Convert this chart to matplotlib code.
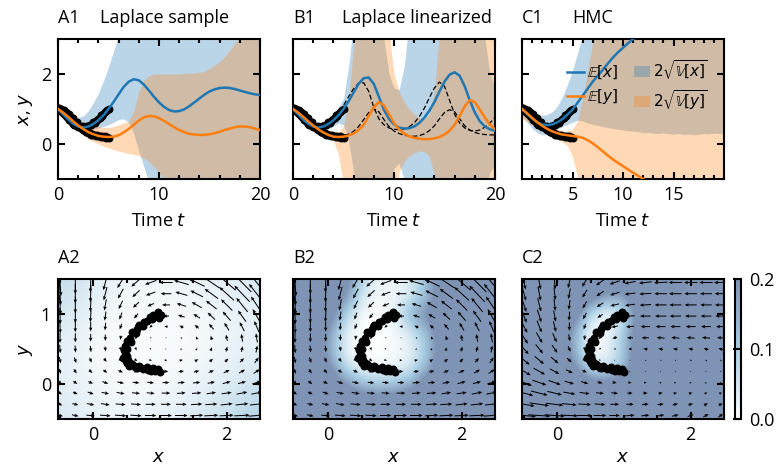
import numpy as np
import matplotlib
matplotlib.use("Agg")
import matplotlib.pyplot as plt
import matplotlib.ticker as mticker
from matplotlib.colors import LinearSegmentedColormap

plt.rcParams['font.family'] = ['Open Sans', 'DejaVu Sans']
plt.rcParams['font.size'] = 13
plt.rcParams['axes.linewidth'] = 1.5
plt.rcParams['mathtext.fontset'] = 'dejavusans'

BLUE = '#1f77b4'
ORANGE = '#ff7f0e'

# ---------------- observations (t, x, y) ----------------
T_OBS = [0, 0.125, 0.25, 0.375, 0.5, 0.625, 0.75, 0.875, 1, 1.125, 1.25, 1.375, 1.5, 1.625,
         1.75, 1.875, 2, 2.125, 2.25, 2.375, 2.5, 2.625, 2.75, 2.875, 3, 3.125, 3.25, 3.375,
         3.5, 3.625, 3.75, 3.875, 4, 4.125, 4.25, 4.375, 4.5, 4.625, 4.75, 4.875, 5]
X_OBS = [1.02, 0.97, 0.99, 0.9, 0.88, 0.85, 0.8, 0.76, 0.74, 0.69, 0.65, 0.64, 0.58, 0.55,
         0.56, 0.5, 0.48, 0.51, 0.46, 0.47, 0.5, 0.45, 0.49, 0.52, 0.5, 0.55, 0.53, 0.58,
         0.62, 0.6, 0.65, 0.68, 0.7, 0.75, 0.82, 0.8, 0.86, 0.9, 0.93, 0.97, 1.0]
Y_OBS = [0.99, 1.03, 0.95, 0.98, 0.93, 0.96, 0.9, 0.89, 0.83, 0.85, 0.78, 0.73, 0.74, 0.66,
         0.6, 0.62, 0.55, 0.5, 0.49, 0.42, 0.4, 0.37, 0.33, 0.35, 0.3, 0.3, 0.26, 0.28,
         0.25, 0.27, 0.23, 0.26, 0.24, 0.22, 0.2, 0.24, 0.19, 0.23, 0.18, 0.21, 0.17]

# ---------------- time grid for predictions ----------------
T = [0, 0.5, 1, 1.5, 2, 2.5, 3, 3.5, 4, 4.5, 5, 5.5, 6, 6.5, 7, 7.5, 8, 8.5, 9, 9.5, 10,
     10.5, 11, 11.5, 12, 12.5, 13, 13.5, 14, 14.5, 15, 15.5, 16, 16.5, 17, 17.5, 18, 18.5,
     19, 19.5, 20]

# A1 Laplace sample
A_XM = [1.0, 0.85, 0.7, 0.58, 0.5, 0.47, 0.5, 0.57, 0.68, 0.82, 1.0, 1.2, 1.42, 1.63, 1.78,
        1.85, 1.82, 1.7, 1.53, 1.35, 1.19, 1.06, 0.97, 0.93, 0.94, 0.99, 1.08, 1.19, 1.3,
        1.41, 1.5, 1.56, 1.6, 1.61, 1.6, 1.57, 1.53, 1.49, 1.45, 1.42, 1.4]
A_YM = [1.0, 0.9, 0.78, 0.65, 0.53, 0.43, 0.34, 0.28, 0.23, 0.21, 0.2, 0.21, 0.25, 0.33, 0.43,
        0.55, 0.67, 0.76, 0.8, 0.79, 0.74, 0.66, 0.57, 0.48, 0.4, 0.34, 0.29, 0.27, 0.26,
        0.26, 0.28, 0.31, 0.35, 0.4, 0.44, 0.48, 0.5, 0.5, 0.48, 0.44, 0.4]
A_XLO = [0.88, 0.72, 0.56, 0.44, 0.38, 0.36, 0.38, 0.42, 0.46, 0.5, 0.55, 0.62, 0.7, 0.72,
         0.62, 0.3, -0.2, -0.65, -1.1] + [-1.5] * 22
A_XHI = [1.1, 0.98, 0.85, 0.78, 0.76, 0.8, 0.95, 1.18, 1.45, 1.8, 2.2, 2.65, 3.1] + [3.5] * 28
A_YLO = [0.88, 0.76, 0.62, 0.48, 0.36, 0.25, 0.15, 0.07, 0.0, -0.06, -0.11, -0.16, -0.2,
         -0.24, -0.27, -0.3, -0.33, -0.4, -0.5, -0.65, -0.82, -1.0, -1.2] + [-1.5] * 18
A_YHI = [1.12, 1.02, 0.9, 0.78, 0.68, 0.6, 0.55, 0.52, 0.5, 0.47, 0.47, 0.5, 0.55, 0.6, 0.65,
         0.95, 1.5, 1.82, 1.95, 2.0, 2.0, 2.0, 2.0, 2.0, 2.0, 2.02, 2.02, 2.03, 2.05, 2.08,
         2.15, 2.25, 2.35, 2.5, 2.68, 2.88, 3.1, 3.3, 3.5, 3.6, 3.7]

# B1 Laplace linearized
B_XM = [1.0, 0.85, 0.7, 0.58, 0.5, 0.47, 0.5, 0.57, 0.68, 0.82, 1.0, 1.22, 1.47, 1.72, 1.88,
        1.9, 1.72, 1.35, 0.98, 0.72, 0.56, 0.47, 0.44, 0.45, 0.5, 0.6, 0.75, 0.95, 1.2, 1.5,
        1.78, 1.98, 2.05, 1.95, 1.65, 1.25, 0.9, 0.65, 0.5, 0.42, 0.38]
B_YM = [1.0, 0.9, 0.78, 0.65, 0.53, 0.42, 0.33, 0.26, 0.21, 0.2, 0.21, 0.24, 0.3, 0.4, 0.55,
        0.8, 1.05, 1.2, 1.1, 0.85, 0.6, 0.42, 0.3, 0.22, 0.18, 0.15, 0.14, 0.14, 0.16, 0.2,
        0.27, 0.38, 0.55, 0.8, 1.08, 1.25, 1.2, 0.98, 0.75, 0.55, 0.42]
B_XLO = [0.92, 0.77, 0.62, 0.5, 0.41, 0.37, 0.38, 0.43, 0.5, 0.6, 0.55, 0.1, -0.8] + \
        [-1.5] * 7 + [-0.7, -0.55, -1.0] + [-1.5] * 16 + [-0.8, -0.6]
B_XHI = [1.08, 0.93, 0.78, 0.67, 0.6, 0.58, 0.63, 0.72, 0.86, 1.05, 1.3, 2.2, 3.5] + \
        [4.0] * 5 + [3.0, 2.0, 1.6, 1.55, 2.2, 3.5] + [4.0] * 14 + [3.0, 2.0, 1.6]
B_YLO = [0.92, 0.82, 0.7, 0.57, 0.45, 0.34, 0.25, 0.17, 0.1, -0.3, -1.2] + [-2.0] * 10 + \
        [-0.8, -0.5, -0.35, -0.25, -0.2, -0.22, -0.35, -0.9] + [-2.0] * 12
B_YHI = [1.08, 0.98, 0.86, 0.73, 0.61, 0.5, 0.41, 0.35, 0.31, 0.33, 0.5, 1.2, 2.8] + \
        [4.0] * 6 + [3.2, 2.0, 1.5, 1.2, 1.0, 0.85, 0.75, 0.72, 0.85, 1.5, 3.2] + [4.0] * 11
B_DX = [1.0, 0.85, 0.7, 0.58, 0.5, 0.47, 0.5, 0.58, 0.7, 0.88, 1.1, 1.35, 1.58, 1.74, 1.75,
        1.5, 1.05, 0.72, 0.55, 0.46, 0.42, 0.41, 0.43, 0.49, 0.6, 0.78, 1.02, 1.32, 1.6,
        1.77, 1.65, 1.25, 0.85, 0.6, 0.46, 0.39, 0.37, 0.4, 0.48, 0.6, 0.76]
B_DY = [1.0, 0.9, 0.78, 0.65, 0.53, 0.43, 0.35, 0.29, 0.25, 0.23, 0.24, 0.28, 0.36, 0.5, 0.7,
        0.9, 1.0, 0.92, 0.7, 0.5, 0.37, 0.3, 0.25, 0.23, 0.22, 0.24, 0.29, 0.38, 0.52, 0.72,
        0.9, 0.98, 0.92, 0.72, 0.52, 0.4, 0.33, 0.29, 0.27, 0.26, 0.26]

# C1 HMC
C_XM = [1.0, 0.86, 0.73, 0.63, 0.56, 0.54, 0.56, 0.62, 0.71, 0.84, 0.98, 1.18, 1.38, 1.58,
        1.78, 1.95, 2.12, 2.3, 2.47, 2.62, 2.75, 2.88, 3.0, 3.12, 3.25, 3.37, 3.5, 3.62, 3.74,
        3.86, 3.98, 4.1, 4.22, 4.34, 4.46, 4.58, 4.7, 4.82, 4.94, 5.06, 5.18]
C_YM = [1.0, 0.88, 0.75, 0.62, 0.52, 0.43, 0.36, 0.31, 0.27, 0.25, 0.23, 0.21, 0.18, 0.11,
        0.02, -0.09, -0.21, -0.33, -0.44, -0.54, -0.63, -0.73, -0.82, -0.91, -1.0, -1.1,
        -1.2, -1.3, -1.4, -1.5, -1.6, -1.7, -1.8, -1.9, -2.0, -2.1, -2.2, -2.3, -2.4, -2.5, -2.6]
C_XLO = [0.8, 0.62, 0.45, 0.32, 0.26, 0.27, 0.33, 0.42, 0.5, 0.56, 0.62, 0.68, 0.66, 0.6,
         0.56, 0.53, 0.5, 0.47, 0.45, 0.42, 0.4, 0.38, 0.37, 0.35, 0.32, 0.33, 0.31, 0.3,
         0.32, 0.3, 0.28, 0.3, 0.27, 0.29, 0.26, 0.28, 0.3, 0.29, 0.31, 0.3, 0.31]
C_XHI = [1.12, 1.0, 0.9, 0.84, 0.82, 0.84, 0.92, 1.08, 1.35, 1.7, 2.1, 2.6, 3.1] + [6.0] * 28
C_YLO = [0.72, 0.65, 0.55, 0.45, 0.36, 0.28, 0.2, 0.13, 0.06, -0.05, -0.35, -0.95, -1.6] + [-3.0] * 28
C_YHI = [1.2, 1.07, 0.92, 0.78, 0.66, 0.56, 0.48, 0.42, 0.38, 0.37, 0.42, 0.65, 1.3, 2.1,
         2.9, 3.5] + [4.0] * 25

# ---------------- phase plane vector fields ----------------
QX = [-0.5, -0.27, -0.04, 0.18, 0.41, 0.64, 0.86, 1.09, 1.32, 1.55, 1.77, 2.0, 2.23, 2.45]
QY = [-0.45, -0.29, -0.13, 0.02, 0.18, 0.34, 0.5, 0.66, 0.82, 0.97, 1.13, 1.29, 1.45]

# rows go from bottom (y=-0.45) to top (y=1.45)
U_LAP = [
    [0.09, 0.1, 0.13, 0.16, 0.17, 0.17, 0.17, 0.18, 0.19, 0.2, 0.21, 0.21, 0.23, 0.24],
    [0.07, 0.09, 0.11, 0.13, 0.15, 0.15, 0.15, 0.15, 0.16, 0.17, 0.18, 0.18, 0.19, 0.2],
    [0.06, 0.07, 0.09, 0.11, 0.12, 0.12, 0.12, 0.13, 0.13, 0.14, 0.14, 0.15, 0.16, 0.16],
    [0.05, 0.06, 0.07, 0.09, 0.1, 0.1, 0.1, 0.1, 0.11, 0.11, 0.11, 0.12, 0.12, 0.13],
    [0.03, 0.04, 0.05, 0.06, 0.07, 0.07, 0.07, 0.07, 0.08, 0.08, 0.08, 0.09, 0.09, 0.09],
    [0.02, 0.03, 0.03, 0.04, 0.04, 0.04, 0.04, 0.04, 0.05, 0.05, 0.05, 0.05, 0.06, 0.06],
    [0.01, 0.01, 0.01, 0.01, 0.02, 0.02, 0.02, 0.02, 0.02, 0.02, 0.02, 0.02, 0.02, 0.02],
    [0.0, 0.0, 0.0, 0.0, -0.01, -0.01, -0.01, -0.01, -0.02, -0.02, -0.02, -0.02, -0.02, -0.02],
    [0.01, 0.0, 0.0, -0.01, -0.03, -0.04, -0.04, -0.05, -0.06, -0.06, -0.07, -0.07, -0.07, -0.07],
    [0.01, 0.0, -0.01, -0.02, -0.04, -0.06, -0.07, -0.09, -0.1, -0.1, -0.11, -0.12, -0.12, -0.12],
    [0.02, 0.0, -0.01, -0.03, -0.06, -0.09, -0.1, -0.12, -0.14, -0.15, -0.16, -0.17, -0.17, -0.17],
    [0.02, 0.0, -0.01, -0.05, -0.08, -0.11, -0.14, -0.16, -0.18, -0.19, -0.2, -0.22, -0.23, -0.23],
    [0.03, 0.0, -0.01, -0.06, -0.1, -0.14, -0.17, -0.2, -0.22, -0.24, -0.25, -0.27, -0.28, -0.28],
]
V_LAP = [
    [-0.02, -0.02, -0.01, -0.01, -0.01, -0.01, 0, 0, 0, 0.01, 0.01, 0.01, 0.01, 0.02],
    [-0.03, -0.02, -0.02, -0.02, -0.01, -0.01, 0, 0, 0, 0.01, 0.01, 0.02, 0.02, 0.02],
    [-0.04, -0.03, -0.03, -0.02, -0.02, -0.01, -0.01, 0, 0.01, 0.01, 0.02, 0.02, 0.03, 0.03],
    [-0.05, -0.04, -0.03, -0.03, -0.02, -0.01, -0.01, 0, 0.01, 0.01, 0.02, 0.03, 0.03, 0.04],
    [-0.07, -0.06, -0.05, -0.04, -0.03, -0.02, -0.01, 0, 0.01, 0.02, 0.03, 0.04, 0.05, 0.06],
    [-0.09, -0.08, -0.07, -0.05, -0.04, -0.03, -0.01, 0, 0.01, 0.03, 0.04, 0.05, 0.06, 0.08],
    [-0.12, -0.1, -0.09, -0.07, -0.05, -0.04, -0.02, 0, 0.02, 0.03, 0.05, 0.07, 0.08, 0.1],
    [-0.15, -0.13, -0.11, -0.09, -0.06, -0.05, -0.02, 0, 0.02, 0.04, 0.06, 0.09, 0.11, 0.13],
    [-0.19, -0.16, -0.14, -0.11, -0.08, -0.06, -0.03, 0, 0.03, 0.05, 0.08, 0.11, 0.13, 0.16],
    [-0.23, -0.2, -0.17, -0.13, -0.1, -0.07, -0.03, 0, 0.03, 0.06, 0.1, 0.13, 0.16, 0.2],
    [-0.28, -0.24, -0.2, -0.16, -0.12, -0.08, -0.04, 0, 0.04, 0.08, 0.12, 0.16, 0.2, 0.24],
    [-0.33, -0.28, -0.24, -0.19, -0.14, -0.1, -0.05, 0, 0.05, 0.09, 0.14, 0.19, 0.23, 0.28],
    [-0.39, -0.33, -0.28, -0.22, -0.16, -0.12, -0.06, 0, 0.06, 0.11, 0.16, 0.22, 0.27, 0.33],
]
U_HMC = [
    [0.36, 0.33, 0.3, 0.26, 0.22, 0.19, 0.16, 0.14, 0.12, 0.11, 0.1, 0.09, 0.08, 0.07],
    [0.32, 0.29, 0.26, 0.22, 0.19, 0.16, 0.13, 0.11, 0.1, 0.09, 0.08, 0.07, 0.06, 0.06],
    [0.28, 0.25, 0.22, 0.18, 0.15, 0.12, 0.1, 0.08, 0.07, 0.06, 0.05, 0.05, 0.04, 0.04],
    [0.24, 0.21, 0.18, 0.14, 0.11, 0.08, 0.06, 0.05, 0.04, 0.03, 0.03, 0.03, 0.02, 0.02],
    [0.2, 0.17, 0.14, 0.1, 0.07, 0.05, 0.03, 0.02, 0.01, 0.01, 0.01, 0.01, 0.0, 0.0],
    [0.17, 0.14, 0.11, 0.07, 0.04, 0.02, 0.0, -0.01, -0.02, -0.02, -0.02, -0.02, -0.02, -0.02],
    [0.14, 0.11, 0.08, 0.04, 0.01, -0.01, -0.03, -0.05, -0.06, -0.07, -0.07, -0.07, -0.07, -0.07],
    [0.12, 0.09, 0.06, 0.02, -0.01, -0.04, -0.07, -0.09, -0.11, -0.12, -0.12, -0.12, -0.12, -0.11],
    [0.1, 0.07, 0.04, 0.0, -0.03, -0.06, -0.1, -0.12, -0.14, -0.15, -0.15, -0.15, -0.15, -0.14],
    [0.08, 0.06, 0.03, -0.01, -0.05, -0.08, -0.12, -0.14, -0.16, -0.17, -0.17, -0.17, -0.16, -0.16],
    [0.07, 0.05, 0.02, -0.02, -0.06, -0.1, -0.13, -0.15, -0.17, -0.18, -0.18, -0.18, -0.17, -0.17],
    [0.06, 0.04, 0.02, -0.03, -0.07, -0.11, -0.14, -0.16, -0.18, -0.19, -0.19, -0.19, -0.18, -0.18],
    [0.05, 0.04, 0.02, -0.04, -0.08, -0.12, -0.15, -0.17, -0.19, -0.2, -0.2, -0.2, -0.2, -0.2],
]
V_HMC = [
    [-0.03, -0.02, -0.02, -0.01, 0, 0, 0, 0.01, 0.01, 0.02, 0.02, 0.03, 0.04, 0.05],
    [-0.05, -0.04, -0.03, -0.02, -0.01, -0.01, 0, 0, 0.01, 0.01, 0.02, 0.02, 0.03, 0.03],
    [-0.07, -0.06, -0.05, -0.03, -0.02, -0.01, -0.01, 0, 0, 0.01, 0.01, 0.02, 0.02, 0.02],
    [-0.09, -0.07, -0.06, -0.04, -0.03, -0.02, -0.01, 0, 0, 0.01, 0.01, 0.01, 0.02, 0.02],
    [-0.11, -0.09, -0.07, -0.05, -0.03, -0.02, -0.01, 0, 0, 0.01, 0.01, 0.01, 0.02, 0.02],
    [-0.13, -0.11, -0.09, -0.06, -0.04, -0.02, -0.01, 0, 0.01, 0.01, 0.01, 0.02, 0.02, 0.02],
    [-0.15, -0.13, -0.11, -0.08, -0.05, -0.03, -0.01, 0, 0.01, 0.01, 0.01, 0.01, 0.02, 0.02],
    [-0.17, -0.15, -0.13, -0.1, -0.07, -0.04, -0.02, 0, 0, 0.01, 0.01, 0.01, 0.01, 0.01],
    [-0.18, -0.17, -0.15, -0.12, -0.08, -0.04, -0.02, -0.01, 0, 0, 0, 0, 0, 0],
    [-0.19, -0.18, -0.16, -0.13, -0.09, -0.05, -0.03, -0.01, 0, 0, 0, 0, 0, 0],
    [-0.2, -0.19, -0.17, -0.14, -0.1, -0.06, -0.03, -0.02, -0.01, 0, 0, 0, 0, 0],
    [-0.2, -0.2, -0.18, -0.15, -0.11, -0.07, -0.04, -0.02, -0.01, 0, 0, 0, 0, 0],
    [-0.2, -0.2, -0.19, -0.16, -0.12, -0.08, -0.05, -0.03, -0.02, -0.01, 0, 0, 0, 0],
]

# ---------------- predictive variance maps ----------------
# A2: coarse grid x = -0.5..2.5 step 0.5, y = -0.5..1.5 step 0.5 (bottom row first)
VAR_A = [
    [0.05, 0.03, 0.025, 0.03, 0.045, 0.07, 0.1],
    [0.035, 0.015, 0.01, 0.012, 0.02, 0.035, 0.06],
    [0.035, 0.01, 0.005, 0.005, 0.01, 0.02, 0.035],
    [0.05, 0.02, 0.008, 0.008, 0.012, 0.02, 0.03],
    [0.08, 0.04, 0.02, 0.02, 0.025, 0.035, 0.05],
]
# B2, C2: grid x = -0.5..2.5 step 0.25, y = -0.5..1.5 step 0.25 (bottom row first)
VAR_B = [
    [0.3, 0.3, 0.3, 0.3, 0.3, 0.3, 0.3, 0.3, 0.3, 0.3, 0.3, 0.3, 0.3],
    [0.3, 0.3, 0.3, 0.3, 0.28, 0.26, 0.27, 0.3, 0.3, 0.3, 0.3, 0.3, 0.3],
    [0.3, 0.3, 0.3, 0.2, 0.12, 0.1, 0.11, 0.14, 0.3, 0.3, 0.3, 0.3, 0.3],
    [0.3, 0.3, 0.22, 0.06, 0.02, 0.01, 0.02, 0.05, 0.14, 0.3, 0.3, 0.3, 0.3],
    [0.3, 0.3, 0.17, 0.02, 0.0, 0.0, 0.01, 0.03, 0.12, 0.3, 0.3, 0.3, 0.3],
    [0.3, 0.3, 0.19, 0.03, 0.0, 0.0, 0.01, 0.05, 0.14, 0.3, 0.3, 0.3, 0.3],
    [0.3, 0.3, 0.28, 0.08, 0.01, 0.0, 0.03, 0.16, 0.24, 0.3, 0.3, 0.3, 0.3],
    [0.3, 0.3, 0.3, 0.2, 0.04, 0.01, 0.02, 0.05, 0.13, 0.3, 0.3, 0.3, 0.3],
    [0.3, 0.3, 0.3, 0.25, 0.08, 0.02, 0.02, 0.04, 0.15, 0.3, 0.3, 0.3, 0.3],
]
VAR_C = [
    [0.3, 0.3, 0.3, 0.3, 0.3, 0.3, 0.3, 0.3, 0.3, 0.3, 0.3, 0.3, 0.3],
    [0.3, 0.3, 0.3, 0.3, 0.3, 0.3, 0.3, 0.3, 0.3, 0.3, 0.3, 0.3, 0.3],
    [0.3, 0.3, 0.3, 0.3, 0.25, 0.24, 0.3, 0.3, 0.3, 0.3, 0.3, 0.3, 0.3],
    [0.3, 0.3, 0.3, 0.22, 0.05, 0.04, 0.11, 0.3, 0.3, 0.3, 0.3, 0.3, 0.3],
    [0.3, 0.3, 0.3, 0.15, 0.0, 0.02, 0.11, 0.3, 0.3, 0.3, 0.3, 0.3, 0.3],
    [0.3, 0.3, 0.3, 0.16, 0.0, 0.02, 0.09, 0.3, 0.3, 0.3, 0.3, 0.3, 0.3],
    [0.3, 0.3, 0.3, 0.28, 0.05, 0.01, 0.05, 0.27, 0.3, 0.3, 0.3, 0.3, 0.3],
    [0.3, 0.3, 0.3, 0.3, 0.26, 0.15, 0.17, 0.3, 0.3, 0.3, 0.3, 0.3, 0.3],
    [0.3, 0.3, 0.3, 0.3, 0.3, 0.3, 0.3, 0.3, 0.3, 0.3, 0.3, 0.3, 0.3],
]

var_cmap = LinearSegmentedColormap.from_list('var', ['#ffffff', '#aacfe4', '#7f94b5'])


def style_ax(ax):
    ax.tick_params(which='both', direction='in', top=True, right=True, width=1.5, pad=5)
    ax.tick_params(which='major', length=5)
    ax.tick_params(which='minor', length=3)


def time_panel(ax, xm, ym, xlo, xhi, ylo, yhi):
    fx = ax.fill_between(T, xlo, xhi, color=BLUE, alpha=0.3, lw=0)
    fy = ax.fill_between(T, ylo, yhi, color=ORANGE, alpha=0.3, lw=0)
    ax.scatter(T_OBS, X_OBS, s=22, c='k', zorder=3)
    ax.scatter(T_OBS, Y_OBS, s=22, c='k', zorder=3)
    lx, = ax.plot(T, xm, color=BLUE, lw=1.8, zorder=4)
    ly, = ax.plot(T, ym, color=ORANGE, lw=1.8, zorder=4)
    ax.set_xlim(0, 20)
    ax.set_ylim(-1, 3)
    ax.yaxis.set_major_locator(mticker.FixedLocator([0, 2]))
    ax.set_xlabel('Time $t$', labelpad=6)
    style_ax(ax)
    return lx, ly, fx, fy


def phase_panel(ax, var, ext, u, v):
    im = ax.imshow(var, origin='lower', extent=ext, cmap=var_cmap, vmin=0, vmax=0.2,
                   interpolation='bicubic', aspect='auto')
    ax.quiver(QX, QY, u, v, angles='xy', scale_units='xy', scale=1, pivot='mid',
              width=0.005, headwidth=3.5, headlength=4, headaxislength=3.5, color='k')
    ax.scatter(X_OBS, Y_OBS, s=22, c='k', zorder=3)
    ax.set_xlim(-0.53, 2.5)
    ax.set_ylim(-0.5, 1.5)
    ax.xaxis.set_major_locator(mticker.FixedLocator([0, 2]))
    ax.xaxis.set_minor_locator(mticker.MultipleLocator(0.5))
    ax.yaxis.set_major_locator(mticker.FixedLocator([0, 1]))
    ax.set_xlabel('$x$', labelpad=3)
    style_ax(ax)
    return im


fig = plt.figure(figsize=(7.82, 4.69), dpi=100)
W = 202 / 782
H = 140 / 469
lefts = [58 / 782, 293 / 782, 522 / 782]
top_b = 1 - 179 / 469
bot_b = 1 - 419 / 469

axA1 = fig.add_axes([lefts[0], top_b, W, H])
axB1 = fig.add_axes([lefts[1], top_b, W, H])
axC1 = fig.add_axes([lefts[2], top_b, W, H])
axA2 = fig.add_axes([lefts[0], bot_b, W, H])
axB2 = fig.add_axes([lefts[1], bot_b, W, H])
axC2 = fig.add_axes([lefts[2], bot_b, W, H])
cax = fig.add_axes([735 / 782, bot_b, 6 / 782, H])

time_panel(axA1, A_XM, A_YM, A_XLO, A_XHI, A_YLO, A_YHI)
axA1.set_ylabel('$x$, $y$', labelpad=4)
axA1.xaxis.set_major_locator(mticker.FixedLocator([0, 10, 20]))
axA1.xaxis.set_minor_locator(mticker.MultipleLocator(2))

axB1.plot(T, B_DX, color='k', ls='--', lw=0.9, dashes=(4, 2), zorder=3.5)
axB1.plot(T, B_DY, color='k', ls='--', lw=0.9, dashes=(4, 2), zorder=3.5)
time_panel(axB1, B_XM, B_YM, B_XLO, B_XHI, B_YLO, B_YHI)
axB1.xaxis.set_major_locator(mticker.FixedLocator([0, 10, 20]))
axB1.xaxis.set_minor_locator(mticker.MultipleLocator(2))
axB1.set_yticklabels([])

lx, ly, fx, fy = time_panel(axC1, C_XM, C_YM, C_XLO, C_XHI, C_YLO, C_YHI)
axC1.xaxis.set_major_locator(mticker.FixedLocator([5, 10, 15]))
axC1.xaxis.set_minor_locator(mticker.MultipleLocator(1))
axC1.set_yticklabels([])
axC1.legend([lx, ly, fx, fy],
            [r'$\mathbb{E}[x]$', r'$\mathbb{E}[y]$',
             r'$2\sqrt{\mathbb{V}[x]}$', r'$2\sqrt{\mathbb{V}[y]}$'],
            ncol=2, frameon=False, loc='upper left', bbox_to_anchor=(0.17, 0.94),
            fontsize=11, handlelength=1.1, handletextpad=0.2, columnspacing=1.0,
            labelspacing=0.4, borderpad=0.2)

phase_panel(axA2, VAR_A, [-0.75, 2.75, -0.75, 1.75], U_LAP, V_LAP)
axA2.set_ylabel('$y$', labelpad=4)
phase_panel(axB2, VAR_B, [-0.625, 2.625, -0.625, 1.625], U_LAP, V_LAP)
axB2.set_yticklabels([])
im = phase_panel(axC2, VAR_C, [-0.625, 2.625, -0.625, 1.625], U_HMC, V_HMC)
axC2.set_yticklabels([])

cb = fig.colorbar(im, cax=cax, ticks=[0, 0.1, 0.2], format='%.1f')
cb.outline.set_linewidth(1.5)
cax.tick_params(direction='in', length=6, width=1.5, pad=6)

# panel labels and titles
for ax, lab, name, xn in [(axA1, 'A1', 'Laplace sample', 0.208),
                          (axB1, 'B1', 'Laplace linearized', 0.245),
                          (axC1, 'C1', 'HMC', 0.251),
                          (axA2, 'A2', '', 0), (axB2, 'B2', '', 0), (axC2, 'C2', '', 0)]:
    ax.text(0, 1.114, lab, transform=ax.transAxes, ha='left', va='baseline')
    if name:
        ax.text(xn, 1.114, name, transform=ax.transAxes, ha='left', va='baseline')

fig.savefig('out.png', dpi=100)
